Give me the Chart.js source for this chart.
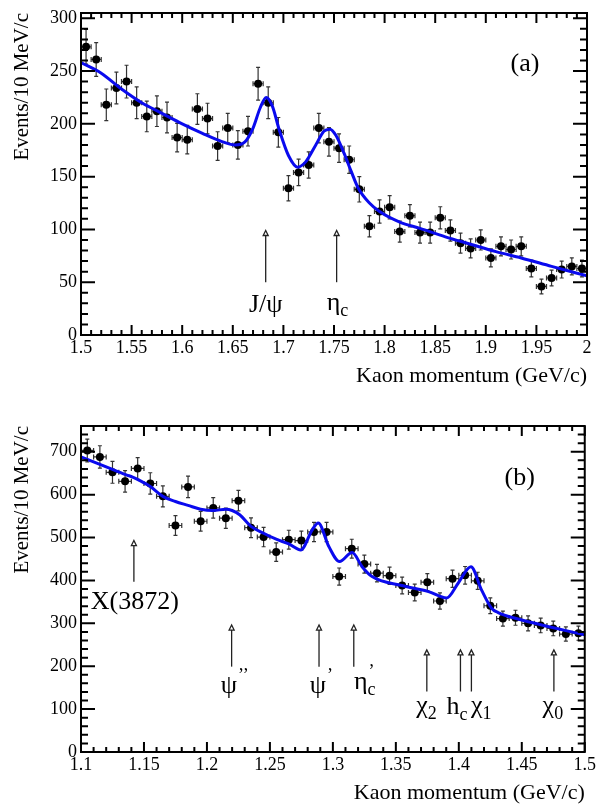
<!DOCTYPE html>
<html>
<head>
<meta charset="utf-8">
<title>Kaon momentum spectra</title>
<script src="https://cdn.jsdelivr.net/npm/chart.js"></script>
<style>
  body { margin: 0; background: #fff; }
  canvas { position: absolute; left: 0; }
</style>
</head>
<body>
<canvas id="panelA" width="600" height="400" style="top:0"></canvas>
<canvas id="panelB" width="600" height="404" style="top:400px"></canvas>
<script>
// panel (a): 1.5 - 2.0 GeV/c, 10 MeV/c bins
const kaonA = [1.505,1.515,1.525,1.535,1.545,1.555,1.565,1.575,1.585,1.595,
  1.605,1.615,1.625,1.635,1.645,1.655,1.665,1.675,1.685,1.695,
  1.705,1.715,1.725,1.735,1.745,1.755,1.765,1.775,1.785,1.795,
  1.805,1.815,1.825,1.835,1.845,1.855,1.865,1.875,1.885,1.895,
  1.905,1.915,1.925,1.935,1.945,1.955,1.965,1.975,1.985,1.995];
const eventsA = [273,261,218,234,240,220,207,212,206,187,
  185,214,205,179,196,180,193,238,220,192,
  139,154,161,196,183,177,166,138,103,117,
  121,98,113,97,97,111,99,87,82,90,
  73,84,81,84,63,46,54,62,65,63];
const errA = [16.5,16,15,15,15.5,15,14.5,14.5,14.5,13.5,
  13.5,14.5,14.5,13.5,14,13.5,14,15.5,15,14,
  12,12.5,12.5,14,13.5,13.5,13,12,10,11,
  11,10,10.5,10,10,10.5,10,9.5,9,9.5,
  8.5,9,9,9,8,7,7.5,8,8,8];
// fit curve
const fitKaonA = [1.500,1.520,1.540,1.560,1.580,1.600,1.620,1.640,1.652,1.662,
  1.670,1.677,1.683,1.689,1.696,1.705,1.714,1.722,1.732,1.740,
  1.746,1.752,1.760,1.767,1.774,1.785,1.795,1.815,1.835,1.860,
  1.885,1.910,1.935,1.965,2.000];
const fitEventsA = [258,248,233,220,210,200,191,183,180,183,
  196,215,225,217,194,170,159,164,180,193,
  195,189,172,155,139,125,117,107,101,93,
  86,79,73,65,56];
const xTicksA = [1.5,1.55,1.6,1.65,1.7,1.75,1.8,1.85,1.9,1.95,2];
const xLabelsA = ['1.5','1.55','1.6','1.65','1.7','1.75','1.8','1.85','1.9','1.95','2'];
const yTicksA = [0,50,100,150,200,250,300];
const yLabelsA = ['0','50','100','150','200','250','300'];

// panel (b): 1.1 - 1.5 GeV/c
const kaonB = [1.105,1.115,1.125,1.135,1.145,1.155,1.165,1.175,1.185,1.195,
  1.205,1.215,1.225,1.235,1.245,1.255,1.265,1.275,1.285,1.295,
  1.305,1.315,1.325,1.335,1.345,1.355,1.365,1.375,1.385,1.395,
  1.405,1.415,1.425,1.435,1.445,1.455,1.465,1.475,1.485,1.495];
const eventsB = [703,688,652,631,661,626,596,528,618,538,
  569,545,586,523,501,466,495,493,513,513,
  409,474,438,417,411,388,372,396,352,404,
  412,399,341,311,313,300,295,288,275,277];
const errB = [26.5,26,25.5,25,25.5,25,24.5,23,25,23,
  24,23.5,24,23,22.5,21.5,22,22,22.5,22.5,
  20,22,21,20.5,20,19.5,19.5,20,19,20,
  20.5,20,18.5,17.5,17.5,17.5,17,17,16.5,16.5];
const fitKaonB = [1.100,1.118,1.136,1.141,1.146,1.155,1.165,1.175,1.185,1.195,
  1.205,1.215,1.220,1.226,1.235,1.245,1.255,1.265,1.2745,1.2836,
  1.2884,1.2968,1.3053,1.3153,1.3232,1.3311,1.3548,1.3759,1.3904,1.3996,
  1.4096,1.418,1.426,1.4312,1.447,1.4734,1.500];
const fitEventsB = [688,667,646,641,634,619,596,584,575,566,
  563,566,563,553,526,510,496,485,471,518,
  534,479,444,465,432,409,388,374,359,394,
  432,378,335,325,310,291,273];
const xTicksB = [1.1,1.15,1.2,1.25,1.3,1.35,1.4,1.45,1.5];
const xLabelsB = ['1.1','1.15','1.2','1.25','1.3','1.35','1.4','1.45','1.5'];
const yTicksB = [0,100,200,300,400,500,600,700];
const yLabelsB = ['0','100','200','300','400','500','600','700'];

// resonance arrows: x, arrow from/to (events), label centre x and baseline
const markersA = [
  { x: 1.6825, from: 50, to: 99, text: 'J/ψ', cx: 1.6825, base: 22 },
  { x: 1.7526, from: 50, to: 99, text: 'η', sub: 'c', cx: 1.7534, base: 24 }
];
const markersB = [
  { x: 1.142, from: 397, to: 493, text: 'X(3872)', cx: 1.1427, base: 334 },
  { x: 1.2196, from: 199, to: 296, text: 'ψ', sup: '’’', cx: 1.2217, base: 138 },
  { x: 1.289, from: 199, to: 296, text: 'ψ', sup: '’', cx: 1.2905, base: 138 },
  { x: 1.3166, from: 199, to: 296, text: 'η', sub: 'c', sup: '’', cx: 1.3253, base: 146 },
  { x: 1.3746, from: 141, to: 238, text: 'χ', sub: '2', cx: 1.3743, base: 91 },
  { x: 1.4013, from: 141, to: 238, text: 'h', sub: 'c', cx: 1.3985, base: 89 },
  { x: 1.41, from: 141, to: 238, text: 'χ', sub: '1', cx: 1.4178, base: 91 },
  { x: 1.4755, from: 141, to: 238, text: 'χ', sub: '0', cx: 1.4747, base: 91 }
];

const SERIF = '"Liberation Serif", "Times New Roman", serif';
Chart.defaults.font.family = SERIF;
Chart.defaults.color = '#000';

// error bars, ROOT-style frame with inward ticks, arrows and labels
function decorations(d) {
  return {
    id: 'decorations',
    beforeDatasetsDraw(chart) {
      const { ctx, scales: { x, y } } = chart;
      ctx.save();
      ctx.strokeStyle = '#333';
      ctx.lineWidth = 1.2;
      ctx.beginPath();
      d.kaon.forEach((k, i) => {
        const px = x.getPixelForValue(k), py = y.getPixelForValue(d.events[i]);
        const lo = y.getPixelForValue(d.events[i] - d.err[i]);
        const hi = y.getPixelForValue(d.events[i] + d.err[i]);
        const l = x.getPixelForValue(k - 0.005), r = x.getPixelForValue(k + 0.005);
        ctx.moveTo(px, lo); ctx.lineTo(px, hi);
        ctx.moveTo(px - 2, lo); ctx.lineTo(px + 2, lo);
        ctx.moveTo(px - 2, hi); ctx.lineTo(px + 2, hi);
        ctx.moveTo(l, py); ctx.lineTo(r, py);
        ctx.moveTo(l, py - 2.5); ctx.lineTo(l, py + 2.5);
        ctx.moveTo(r, py - 2.5); ctx.lineTo(r, py + 2.5);
      });
      ctx.stroke();
      ctx.restore();
    },
    afterDatasetsDraw(chart) {
      const { ctx, chartArea: a, scales: { x, y } } = chart;
      ctx.save();
      ctx.strokeStyle = '#000';
      ctx.lineWidth = 2;
      ctx.strokeRect(a.left, a.top, a.right - a.left, a.bottom - a.top);
      ctx.beginPath();
      // x ticks, top and bottom
      for (let k = 0; ; k++) {
        const v = x.min + k * d.xMinor;
        if (v > x.max + 1e-9) break;
        const len = k % 5 === 0 ? 10 : 5;
        const px = x.getPixelForValue(v);
        ctx.moveTo(px, a.bottom); ctx.lineTo(px, a.bottom - len);
        ctx.moveTo(px, a.top); ctx.lineTo(px, a.top + len);
      }
      // y ticks, left and right
      for (let k = 0; ; k++) {
        const v = y.min + k * d.yMinor;
        if (v > y.max) break;
        const len = k % 5 === 0 ? 14 : 7;
        const py = y.getPixelForValue(v);
        ctx.moveTo(a.left, py); ctx.lineTo(a.left + len, py);
        ctx.moveTo(a.right, py); ctx.lineTo(a.right - len, py);
      }
      ctx.stroke();

      // arrows
      ctx.lineWidth = 1.3;
      ctx.strokeStyle = '#222';
      d.markers.forEach(m => {
        const px = x.getPixelForValue(m.x);
        const y0 = y.getPixelForValue(m.from), y1 = y.getPixelForValue(m.to);
        ctx.beginPath();
        ctx.moveTo(px, y0); ctx.lineTo(px, y1 + 5);
        ctx.stroke();
        ctx.beginPath();
        ctx.moveTo(px, y1); ctx.lineTo(px - 2.5, y1 + 5); ctx.lineTo(px + 2.5, y1 + 5);
        ctx.closePath();
        ctx.fillStyle = '#fff';
        ctx.fill();
        ctx.stroke();
        drawLabel(ctx, m, x, y);
      });

      ctx.fillStyle = '#000';
      ctx.font = '26px ' + SERIF;
      ctx.textAlign = 'center';
      ctx.textBaseline = 'alphabetic';
      ctx.fillText(d.tag, x.getPixelForValue(d.tagX), y.getPixelForValue(d.tagY));
      ctx.restore();
    }
  };
}

function drawLabel(ctx, m, x, y) {
  const cx = x.getPixelForValue(m.cx), base = y.getPixelForValue(m.base);
  ctx.font = '26px ' + SERIF;
  const w1 = ctx.measureText(m.text).width;
  ctx.font = '18px ' + SERIF;
  const w2 = Math.max(m.sub ? ctx.measureText(m.sub).width : 0,
                      m.sup ? ctx.measureText(m.sup).width : 0);
  const x0 = cx - (w1 + w2) / 2;
  ctx.fillStyle = '#000';
  ctx.textAlign = 'left';
  ctx.textBaseline = 'alphabetic';
  ctx.font = '26px ' + SERIF;
  ctx.fillText(m.text, x0, base);
  ctx.font = '18px ' + SERIF;
  if (m.sub) ctx.fillText(m.sub, x0 + w1, base + 6);
  if (m.sup) ctx.fillText(m.sup, x0 + w1 + 1, base - 12);
}

function makeChart(id, d) {
  new Chart(document.getElementById(id), {
    type: 'scatter',
    data: {
      datasets: [
        {
          type: 'line',
          data: d.fitKaon.map((k, i) => ({ x: k, y: d.fitEvents[i] })),
          borderColor: '#0a0aee',
          borderWidth: 3,
          pointRadius: 0,
          cubicInterpolationMode: 'monotone',
          fill: false,
          order: 0
        },
        {
          data: d.kaon.map((k, i) => ({ x: k, y: d.events[i] })),
          backgroundColor: '#000',
          borderColor: '#000',
          pointRadius: 4,
          pointBorderWidth: 0,
          order: 1
        }
      ]
    },
    options: {
      responsive: false,
      animation: false,
      devicePixelRatio: 1,
      layout: { padding: { top: d.top, right: 13, left: 0, bottom: 0 } },
      plugins: { legend: { display: false }, tooltip: { enabled: false } },
      scales: {
        x: {
          type: 'linear', min: d.xMin, max: d.xMax,
          afterBuildTicks: s => { s.ticks = d.xTicks.map(v => ({ value: v })); },
          afterFit: s => { s.height = d.xHeight; },
          grid: { display: false, drawTicks: false },
          border: { display: false },
          ticks: { autoSkip: false, maxRotation: 0, padding: 4,
                   font: { size: 18, lineHeight: 1 },
                   callback: (v, i) => d.xLabels[i] },
          title: { display: true, text: 'Kaon momentum (GeV/c)', align: 'end',
                   font: { size: 22, lineHeight: 1 }, padding: { top: 0, bottom: d.titlePad } }
        },
        y: {
          type: 'linear', min: 0, max: d.yMax,
          afterBuildTicks: s => { s.ticks = d.yTicks.map(v => ({ value: v })); },
          afterFit: s => { s.width = 81; },
          grid: { display: false, drawTicks: false },
          border: { display: false },
          ticks: { padding: 4, font: { size: 18, lineHeight: 1 },
                   callback: (v, i) => d.yLabels[i] },
          title: { display: true, text: 'Events/10 MeV/c', align: 'end',
                   font: { size: 21, lineHeight: 1 }, padding: { top: 12, bottom: 0 } }
        }
      }
    },
    plugins: [decorations(d)]
  });
}

makeChart('panelA', {
  kaon: kaonA, events: eventsA, err: errA, fitKaon: fitKaonA, fitEvents: fitEventsA,
  xTicks: xTicksA, xLabels: xLabelsA, yTicks: yTicksA, yLabels: yLabelsA,
  xMin: 1.5, xMax: 2.0, yMax: 305, xMinor: 0.01, yMinor: 10,
  top: 10, xHeight: 65, titlePad: 13,
  markers: markersA, tag: '(a)', tagX: 1.9387, tagY: 250
});

makeChart('panelB', {
  kaon: kaonB, events: eventsB, err: errB, fitKaon: fitKaonB, fitEvents: fitEventsB,
  xTicks: xTicksB, xLabels: xLabelsB, yTicks: yTicksB, yLabels: yLabelsB,
  xMin: 1.1, xMax: 1.5, yMax: 760, xMinor: 0.01, yMinor: 20,
  top: 26, xHeight: 52, titlePad: 0,
  markers: markersB, tag: '(b)', tagX: 1.4484, tagY: 623
});
</script>
</body>
</html>
